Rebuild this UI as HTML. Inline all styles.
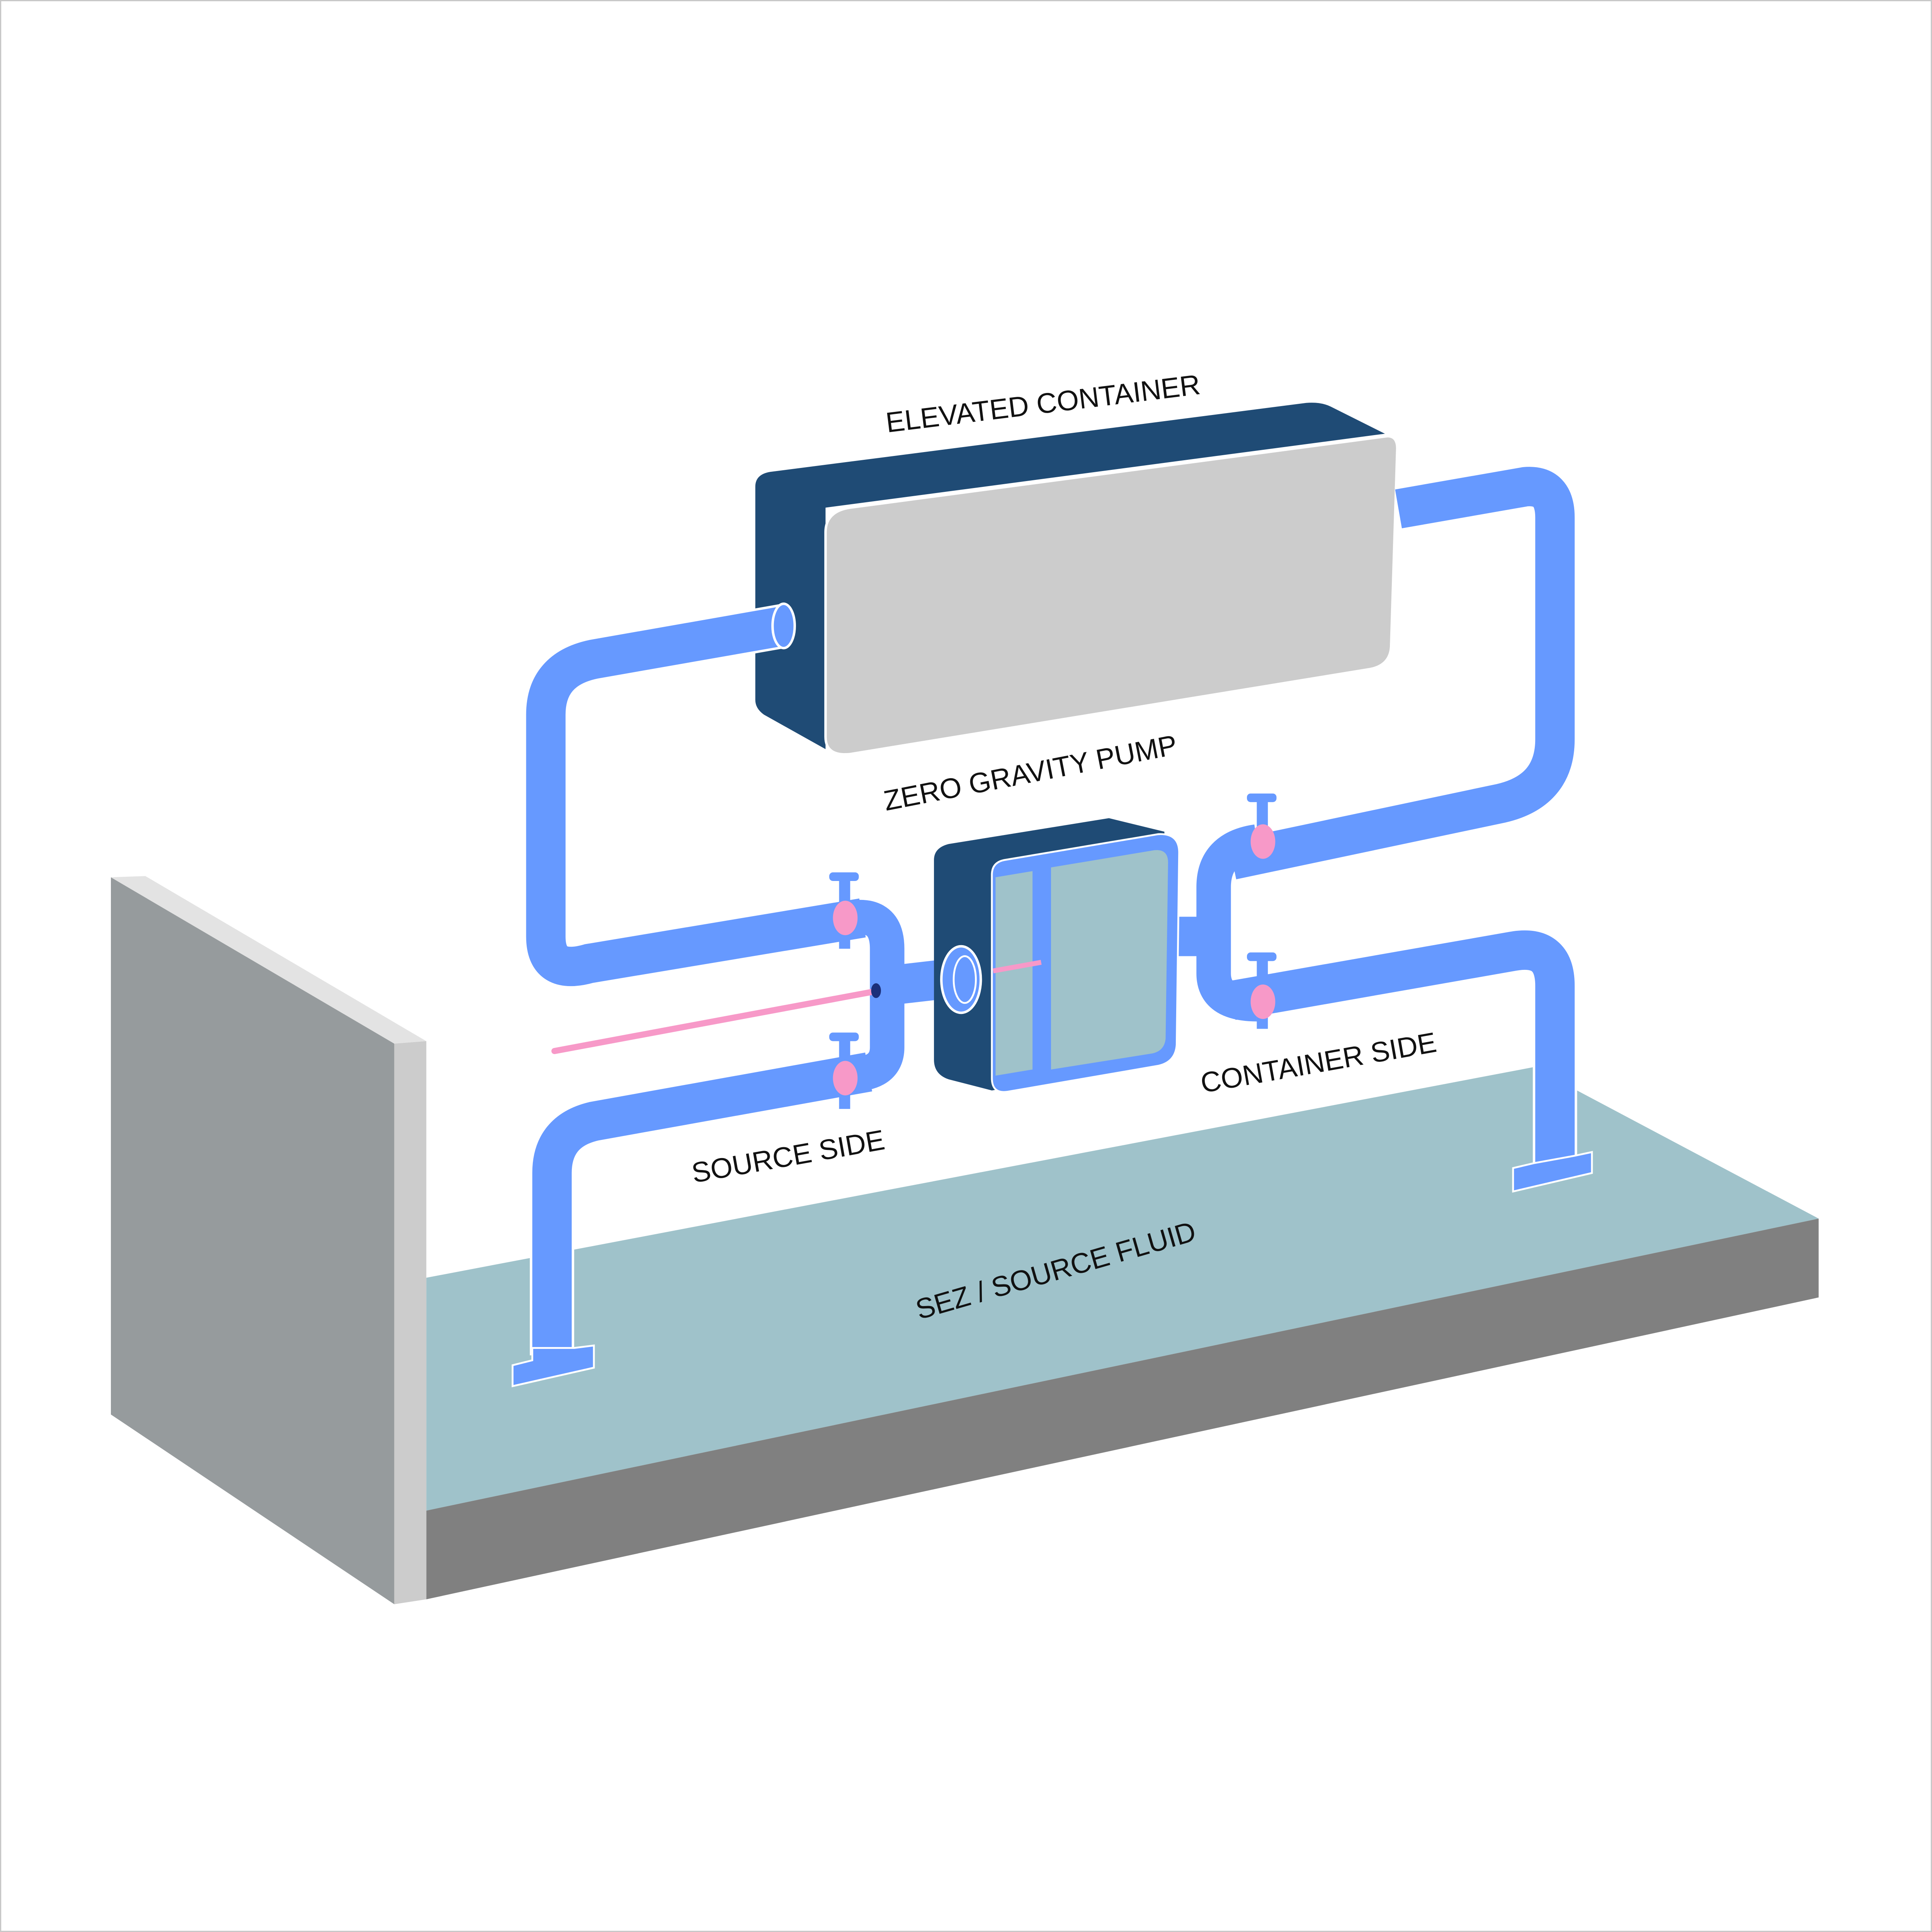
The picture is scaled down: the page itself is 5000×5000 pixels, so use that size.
<!DOCTYPE html>
<html><head><meta charset="utf-8"><style>html,body{margin:0;padding:0;background:#fff}svg{display:block}</style></head>
<body>
<svg width="5000" height="5000" viewBox="0 0 1568 1568" xmlns="http://www.w3.org/2000/svg">
<rect x="0.5" y="0.5" width="1567" height="1567" fill="#fff" stroke="#c8c8c8" stroke-width="1"/>
<!-- floor -->
<polygon points="346,1037 1245,866 1278,884 1476,989 346,1226" fill="#9fc2ca"/>
<polygon points="346,1226 1476,989 1476,1053 346,1298" fill="#808080"/>
<!-- wall -->
<polygon points="90,712 320,847 320,1302 90,1148" fill="#969b9d"/>
<polygon points="90,712 118,711 346,845 320,847" fill="#e3e3e3"/>
<polygon points="320,847 346,845 346,1298 320,1302" fill="#cccccc"/>
<!-- elevated container -->
<path d="M625,383 L1060,327 Q1072,326 1080,330 L1124,352 L670,412 L670,608 L620,580 Q613,575 613,568 L613,395 Q613,385 625,383 Z" fill="#1f4b75"/>
<path d="M690,412 L1126,354 Q1134,354 1134,364 L1129,525 Q1128,540 1112,543 L690,612 Q670,614 670,598 L670,432 Q670,415 690,412 Z" fill="#cccccc" stroke="#fff" stroke-width="2"/>
<!-- pipes -->
<g fill="none" stroke-linecap="butt" stroke-linejoin="round">
<g stroke="#fff" stroke-width="36">
<path d="M636,508 L482,535 Q443,543 443,580 L443,760 Q443,792 478,782 L700,745"/>
<path d="M1135,413 L1238,395 Q1262,393 1262,420 L1262,600 Q1262,642 1218,652 L1000,698"/>
<path d="M1000,812 L1228,772 Q1262,766 1262,800 L1262,945"/>
<path d="M705,870 L482,910 Q448,918 448,952 L448,1100"/>
</g>
<g stroke="#6699ff" stroke-width="32">
<path d="M636,508 L482,535 Q443,543 443,580 L443,760 Q443,792 478,782 L700,745"/>
<path d="M1135,413 L1238,395 Q1262,393 1262,420 L1262,600 Q1262,642 1218,652 L1000,698"/>
<path d="M1000,812 L1228,772 Q1262,766 1262,800 L1262,945"/>
<path d="M705,870 L482,910 Q448,918 448,952 L448,1100"/>
</g>
<!-- pump connectors -->
<path d="M690,745 Q720,740 720,770 L720,850 Q720,872 690,872" stroke="#6699ff" stroke-width="28"/>
<path d="M720,800 L790,792" stroke="#6699ff" stroke-width="32"/>
<path d="M1020,683 Q985,688 985,720 L985,790 Q985,815 1020,815" stroke="#6699ff" stroke-width="28"/>
<path d="M955,760 L990,760" stroke="#6699ff" stroke-width="32"/>
</g>
<ellipse cx="636" cy="508" rx="9" ry="18" fill="#6699ff" stroke="#fff" stroke-width="2"/>
<!-- feet -->
<polygon points="416,1108 432,1104 432,1094 466,1094 482,1092 482,1110 416,1125" fill="#6699ff" stroke="#fff" stroke-width="1.5"/>
<polygon points="1228,948 1245,944 1278,938 1292,935 1292,952 1228,967" fill="#6699ff" stroke="#fff" stroke-width="1.5"/>
<!-- pump -->
<path d="M770,685 L900,664 L945,675 L950,860 L805,885 L770,876 Q758,872 758,860 L758,698 Q758,688 770,685 Z" fill="#1f4b75"/>
<path d="M815,698 L940,677 Q957,676 957,692 L955,848 Q954,862 940,865 L818,886 Q805,888 805,875 L805,710 Q805,700 815,698 Z" fill="#6699ff" stroke="#fff" stroke-width="1.5"/>
<path d="M808,712 L838,707 L838,868 L808,873 Z" fill="#9fc2ca"/>
<path d="M853,704 L937,690 Q948,689 948,700 L946,843 Q945,853 935,855 L853,868 Z" fill="#9fc2ca"/>
<ellipse cx="780" cy="795" rx="16" ry="27" fill="#6699ff" stroke="#fff" stroke-width="2"/>
<ellipse cx="783" cy="795" rx="9" ry="19" fill="#6699ff" stroke="#fff" stroke-width="1.5"/>
<!-- pink lines -->
<line x1="450" y1="853" x2="708" y2="805" stroke="#f799c8" stroke-width="5" stroke-linecap="round"/>
<line x1="806" y1="788" x2="845" y2="781" stroke="#f799c8" stroke-width="4"/>
<ellipse cx="711" cy="804" rx="4" ry="6" fill="#1b2f7a"/>
<!-- valves -->
<g fill="#6699ff">
<rect x="681" y="712" width="9" height="58"/><rect x="673" y="708" width="24" height="7" rx="3"/>
<rect x="681" y="842" width="9" height="58"/><rect x="673" y="838" width="24" height="7" rx="3"/>
<rect x="1020" y="648" width="9" height="58"/><rect x="1012" y="644" width="24" height="7" rx="3"/>
<rect x="1020" y="777" width="9" height="58"/><rect x="1012" y="773" width="24" height="7" rx="3"/>
</g>
<g fill="#f799c8">
<ellipse cx="686" cy="745" rx="10" ry="14"/>
<ellipse cx="686" cy="875" rx="10" ry="14"/>
<ellipse cx="1025" cy="683" rx="10" ry="14"/>
<ellipse cx="1025" cy="813" rx="10" ry="14"/>
</g>
<!-- labels -->
<g font-family="Liberation Sans, sans-serif" font-size="23" fill="#111">
<text transform="translate(720,351) rotate(-7)">ELEVATED CONTAINER</text>
<text transform="translate(719,658) rotate(-11)">ZERO GRAVITY PUMP</text>
<text transform="translate(563,960) rotate(-10)">SOURCE SIDE</text>
<text transform="translate(976,887) rotate(-10)">CONTAINER SIDE</text>
<text transform="translate(746,1071) rotate(-16)">SEZ / SOURCE FLUID</text>
</g>
</svg>
</body></html>
